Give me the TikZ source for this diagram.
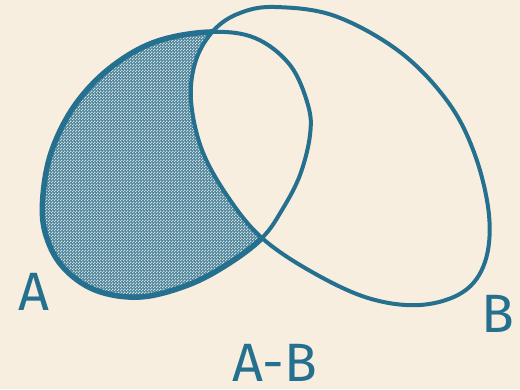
\documentclass[tikz,border=0pt]{standalone}
\usepackage{fontspec}
\setmainfont{Fira Sans}
\usetikzlibrary{patterns}
\definecolor{bg}{HTML}{F7EEDF}
\definecolor{ink}{HTML}{26708F}
\pgfdeclarepatternformonly{finechecker}{\pgfpointorigin}{\pgfqpoint{3pt}{3pt}}{\pgfqpoint{3pt}{3pt}}{%
  \pgfpathrectangle{\pgfpointorigin}{\pgfqpoint{1.5pt}{1.5pt}}%
  \pgfpathrectangle{\pgfqpoint{1.5pt}{1.5pt}}{\pgfqpoint{1.5pt}{1.5pt}}%
  \pgfusepath{fill}}
\begin{document}
\begin{tikzpicture}[x=1pt,y=-1pt,
  lbl/.style={text=ink,font=\fontsize{54}{54}\selectfont,inner sep=0pt},
  thinline/.style={draw=ink,line width=4pt},
  thickline/.style={draw=ink,line width=5.5pt}]
\fill[bg] (0,0) rectangle (520,389);
\useasboundingbox (0,0) rectangle (520,389);
\def\pathA{plot[smooth cycle,tension=0.6] coordinates {(210,32) (255,38) (290,65) (308,105) (310,135) (300,175) (282,210) (262,238) (228,264) (188,285) (140,297) (95,290) (62,266) (45,232) (43,195) (52,150) (75,105) (110,68) (155,42)}}
\def\pathB{plot[smooth cycle,tension=0.6] coordinates {(275,7) (335,16) (400,52) (448,102) (475,155) (489,215) (485,262) (463,292) (420,305) (368,298) (312,272) (262,238) (228,197) (202,150) (191,100) (196,60) (214,30) (240,13)}}
\begin{scope}
  \clip \pathA;
  \fill[ink!85] \pathA;
  \fill[pattern=finechecker,pattern color=bg!85!ink] \pathA;
  \fill[bg] \pathB;
\end{scope}
\draw[thinline] \pathA;
\begin{scope}[even odd rule]
  \clip (0,0) rectangle (520,389) \pathB;
  \draw[thickline] \pathA;
\end{scope}
\draw[thinline] \pathB;
\node[lbl] (la) at (34,292) {A};
\node[lbl] (lb) at (498,314) {B};
\node[lbl] (lab) at (275,363) {A-B};
\end{tikzpicture}
\end{document}
